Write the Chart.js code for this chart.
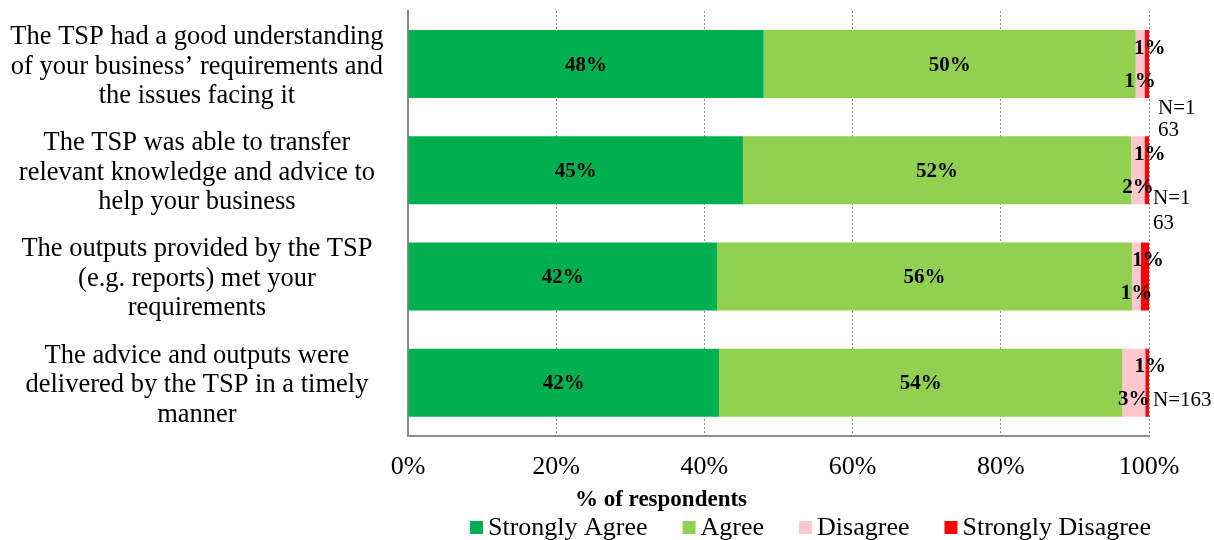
<!DOCTYPE html>
<html>
<head>
<meta charset="utf-8">
<script src="https://cdn.jsdelivr.net/npm/chart.js@4/dist/chart.umd.min.js"></script>
<style>
  html, body { margin: 0; padding: 0; background: #fff; }
  #wrap { width: 1214px; height: 540px; }
</style>
</head>
<body>
<div id="wrap"><canvas id="c" width="1214" height="540"></canvas></div>
<script>
const statements = [
    ['The TSP had a good understanding', 'of your business\u2019 requirements and', 'the issues facing it'],
    ['The TSP was able to transfer', 'relevant knowledge and advice to', 'help your business'],
    ['The outputs provided by the TSP', '(e.g. reports) met your', 'requirements'],
    ['The advice and outputs were', 'delivered by the TSP in a timely', 'manner']
];
const seriesNames = ['Strongly Agree', 'Agree', 'Disagree', 'Strongly Disagree'];
const stronglyAgree = [48, 45.2, 41.7, 42];
const agree = [50.2, 52.4, 56, 54.4];
const disagree = [1.2, 1.8, 1.2, 3.1];
const stronglyDisagree = [0.6, 0.6, 1.1, 0.5];
const nLabels = [['N=1', '63'], ['N=1', '63'], [], ['N=163']];
const xTicks = [0, 20, 40, 60, 80, 100];

const colors = ['#00B050', '#92D050', '#FFC7CE', '#FF0000'];
const SERIF = '"Liberation Serif", "Times New Roman", serif';
// where excel dropped the N= labels (offset from bar centre)
const nPos = [{ dx: 9, dy: [44, 66] }, { dx: 4, dy: [28, 53] }, { dx: 4, dy: [] }, { dx: 4, dy: [18] }];

const extras = {
    id: 'extras',
    afterDatasetsDraw(chart) {
        const ctx = chart.ctx;
        const area = chart.chartArea;
        ctx.save();
        ctx.fillStyle = '#000';
        ctx.textBaseline = 'middle';

        // segment labels
        ctx.font = 'bold 21px ' + SERIF;
        ctx.textAlign = 'center';
        chart.data.datasets.forEach((ds, di) => {
            chart.getDatasetMeta(di).data.forEach((bar, i) => {
                const p = bar.getProps(['x', 'y', 'base'], true);
                let cx = (p.x + p.base) / 2, cy = p.y + 1;
                if (di === 2) cy += 16;
                if (di === 3) { cy -= 17; cx += 3; }
                ctx.fillText(Math.round(ds.data[i]) + '%', cx, cy);
            });
        });

        // N labels
        ctx.font = '21px ' + SERIF;
        ctx.textAlign = 'left';
        const yMeta = chart.getDatasetMeta(0).data;
        nLabels.forEach((lines, i) => {
            lines.forEach((t, j) => ctx.fillText(t, area.right + nPos[i].dx, yMeta[i].y + nPos[i].dy[j]));
        });

        // axis title
        ctx.font = 'bold 23px ' + SERIF;
        ctx.textAlign = 'center';
        ctx.fillText('% of respondents', 661, 500);

        // legend
        ctx.font = '26px ' + SERIF;
        ctx.textAlign = 'left';
        let lx = 470;
        seriesNames.forEach((name, i) => {
            ctx.fillStyle = colors[i];
            ctx.fillRect(lx, 521, 13, 13);
            ctx.fillStyle = '#000';
            ctx.fillText(name, lx + 18, 528);
            lx += 18 + ctx.measureText(name).width + 35;
        });
        ctx.restore();
    }
};

new Chart(document.getElementById('c'), {
    type: 'bar',
    data: {
        labels: statements,
        datasets: [stronglyAgree, agree, disagree, stronglyDisagree].map((d, i) => ({
            label: seriesNames[i], data: d, backgroundColor: colors[i], borderWidth: 0,
            barPercentage: 0.64, categoryPercentage: 1
        }))
    },
    options: {
        indexAxis: 'y', responsive: false, animation: false,
        layout: { padding: { top: 11, right: 65, bottom: 41, left: 0 } },
        scales: {
            x: {
                stacked: true, min: 0, max: 100,
                afterBuildTicks: (s) => { s.ticks = xTicks.map(v => ({ value: v })); },
                ticks: { callback: v => v + '%', color: '#000', padding: 16, font: { family: SERIF, size: 26 } },
                grid: { color: '#8c8c8c', lineWidth: 1, drawTicks: false },
                border: { display: true, color: '#8c8c8c', width: 2, dash: [2, 2] }
            },
            y: {
                stacked: true,
                afterFit: (s) => { s.width = 408; s.paddingTop = 0; s.paddingBottom = 0; },
                ticks: { autoSkip: false, color: '#000', padding: 16.5, labelOffset: 2.5, crossAlign: 'center', font: { family: SERIF, size: 26.5, lineHeight: 1.113 } },
                grid: { display: false },
                border: { color: '#8c8c8c', width: 2 }
            }
        },
        plugins: { legend: { display: false }, tooltip: { enabled: false } }
    },
    plugins: [extras]
});
</script>
</body>
</html>
